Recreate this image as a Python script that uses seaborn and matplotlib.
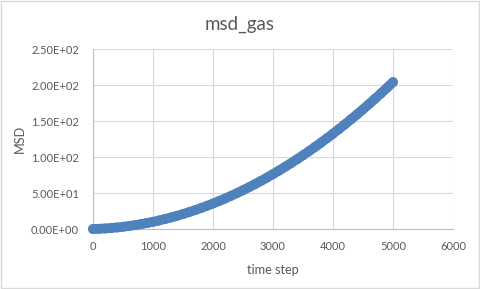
import matplotlib
matplotlib.use("Agg")
import matplotlib.pyplot as plt
import matplotlib.ticker as mticker
import seaborn as sns
import pandas as pd

# time steps (every 100 steps) and MSD values
time_step = list(range(0, 5001, 100))
msd = [0.0, 0.31, 0.77, 1.38, 2.15, 3.08, 4.15, 5.38, 6.77, 8.31,
       10.0, 11.85, 13.85, 16.0, 18.31, 20.78, 23.39, 26.16, 29.09, 32.17,
       35.4, 38.79, 42.33, 46.02, 49.87, 53.88, 58.03, 62.34, 66.81, 71.43,
       76.2, 81.13, 86.21, 91.44, 96.83, 102.38, 108.07, 113.92, 119.93, 126.09,
       132.4, 138.87, 145.49, 152.26, 159.19, 166.28, 173.51, 180.9, 188.45, 196.15,
       204.0]
x_ticks = [0, 1000, 2000, 3000, 4000, 5000, 6000]
y_ticks = [0, 50, 100, 150, 200, 250]
title = "msd_gas"
x_label = "time step"
y_label = "MSD"

df = pd.DataFrame({"time step": time_step, "MSD": msd})

sns.set_style("whitegrid")
plt.rcParams["font.family"] = ["Lato", "DejaVu Sans"]
txt = "#595959"
blue = "#4F81BD"

fig = plt.figure(figsize=(4.8, 2.89), dpi=100)
ax = fig.add_axes([93/480, 1-229/289, 360/480, 180/289])

# dense marker series drawn as a thick band of overlapping points
sns.lineplot(data=df, x="time step", y="MSD", ax=ax, color=blue,
             linewidth=7, solid_capstyle="round", solid_joinstyle="round",
             zorder=3, clip_on=False)
sns.scatterplot(data=df, x="time step", y="MSD", ax=ax, color=blue,
                s=50, edgecolor="none", linewidth=0, zorder=4, clip_on=False)

ax.set_xlim(0, 6000)
ax.set_ylim(0, 250)
ax.set_xticks(x_ticks)
ax.set_yticks(y_ticks)
ax.yaxis.set_major_formatter(mticker.FormatStrFormatter("%.2E"))
ax.grid(True, color="#D9D9D9", linewidth=0.8)
for side in ["top", "right"]:
    ax.spines[side].set_visible(False)
for side in ["left", "bottom"]:
    ax.spines[side].set_color("#BFBFBF")
    ax.spines[side].set_linewidth(0.8)
ax.tick_params(axis="both", length=0, labelsize=8, colors=txt)
ax.tick_params(axis="y", pad=10)
ax.tick_params(axis="x", pad=9)

ax.set_xlabel(x_label, fontsize=9.2, color=txt, labelpad=8)
ax.set_ylabel(y_label, fontsize=9.2, color=txt, labelpad=4)
fig.text(0.5, 1-24/289, title, ha="center", va="center", fontsize=13.5, color=txt)

# chart border
border = plt.Rectangle((0.002, 0.003), 0.995, 0.994, transform=fig.transFigure,
                       fill=False, edgecolor="#D9D9D9", linewidth=1)
fig.patches.append(border)

fig.savefig("out.png", dpi=100)
